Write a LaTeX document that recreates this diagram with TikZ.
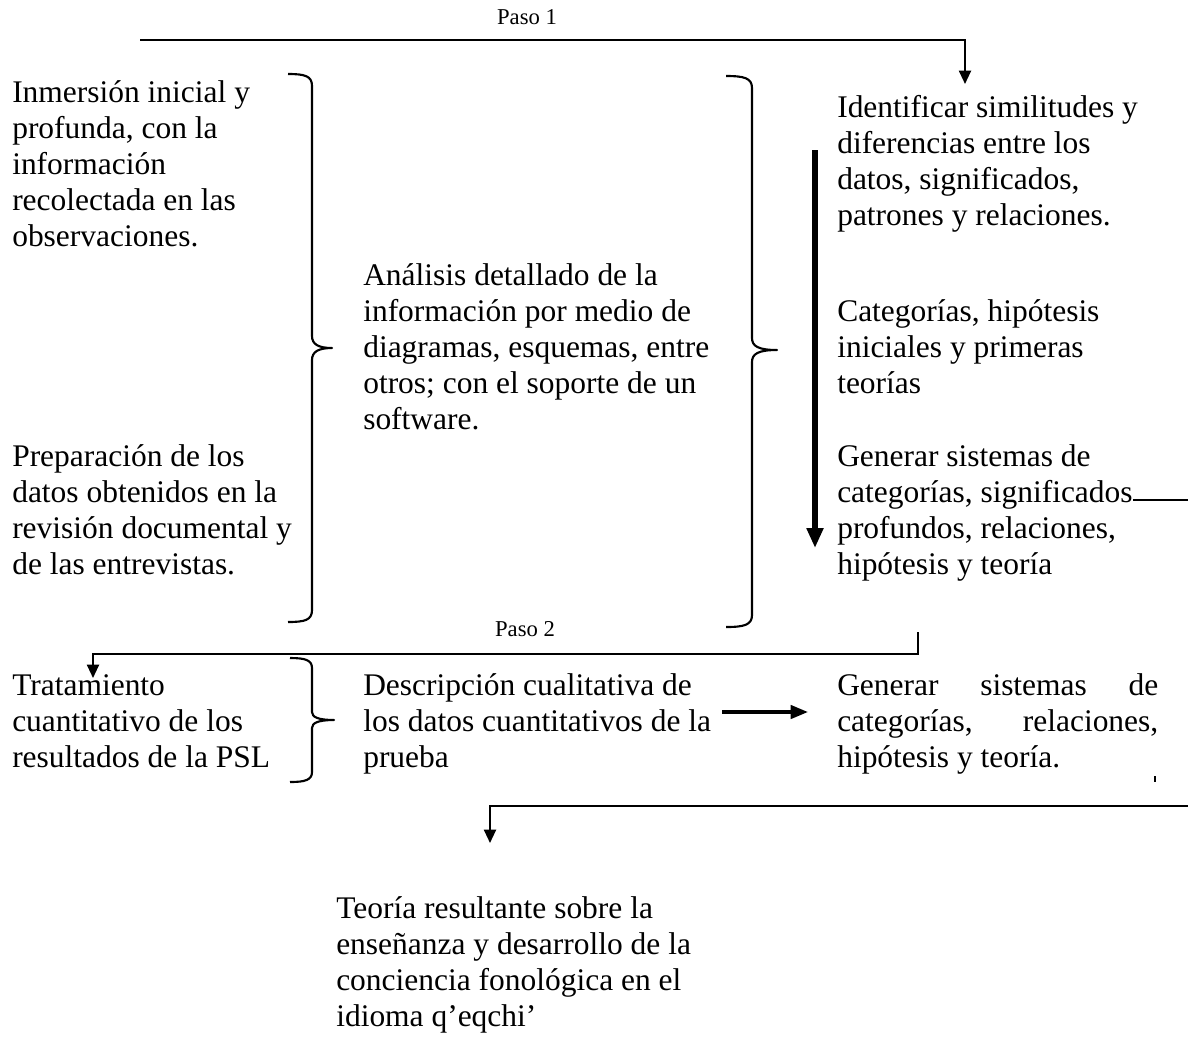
\documentclass[tikz,border=0pt]{standalone}
\usepackage{fontspec}
\setmainfont{Liberation Serif}
\usetikzlibrary{arrows.meta}

\tikzset{
  txt/.style={anchor=base west, inner sep=0pt, font=\fontsize{23.6}{27}\selectfont},
  paso/.style={anchor=base, inner sep=0pt, font=\fontsize{17}{20}\selectfont},
  linea/.style={line width=1.5pt},
  flecha/.style={line width=1.5pt, -{Triangle[length=10pt,width=9pt]}},
  llave/.style={line width=1.6pt, line join=round}
}
\newcommand{\lineas}[1]{\begin{tabular}[t]{@{}l@{}}#1\end{tabular}}

\begin{document}
\begin{tikzpicture}[x=0.75pt, y=-0.75pt]
  \useasboundingbox (0,0) rectangle (1188,1040);
  % paso 1
  \node[paso] (paso1) at (527,24) {Paso 1};
  \coordinate (p1ini) at (140,40); \coordinate (p1esq) at (965,40); \coordinate (p1fin) at (965,84);
  \draw[flecha] (p1ini) -- (p1esq) -- (p1fin);
  % columna izquierda
  \node[txt] (inmersion) at (12,102) {\lineas{Inmersión inicial y\\ profunda, con la\\ información\\ recolectada en las\\ observaciones.}};
  \node[txt] (preparacion) at (12,466) {\lineas{Preparación de los\\ datos obtenidos en la\\ revisión documental y\\ de las entrevistas.}};
  \draw[llave] (288,74) .. controls (305,74) and (312,76) .. (312,86) -- (312,336) .. controls (312,344) and (318,348) .. (332,348)
    .. controls (318,348) and (312,352) .. (312,360) -- (312,610) .. controls (312,620) and (305,622) .. (288,622);
  % columna central
  \node[txt] (analisis) at (363,285) {\lineas{Análisis detallado de la\\ información por medio de\\ diagramas, esquemas, entre\\ otros; con el soporte de un\\ software.}};
  \draw[llave] (726,76) .. controls (744,76) and (752,78) .. (752,88) -- (752,338) .. controls (752,346) and (758,350) .. (777,350)
    .. controls (758,350) and (752,354) .. (752,362) -- (752,615) .. controls (752,625) and (744,627) .. (726,627);
  % columna derecha
  \node[txt] (identificar) at (837,117) {\lineas{Identificar similitudes y\\ diferencias entre los\\ datos, significados,\\ patrones y relaciones.}};
  \node[txt] (categorias) at (837,321) {\lineas{Categorías, hipótesis\\ iniciales y primeras\\ teorías}};
  \node[txt] (generar) at (837,466) {\lineas{Generar sistemas de\\ categorías, significados\\ profundos, relaciones,\\ hipótesis y teoría}};
  \coordinate (gruesoini) at (815,150); \coordinate (gruesofin) at (815,548);
  \draw[line width=4.5pt, -{Triangle[length=15pt,width=12pt]}] (gruesoini) -- (gruesofin);
  \coordinate (sigini) at (1133,500); \coordinate (sigfin) at (1188,500);
  \draw[linea] (sigini) -- (sigfin);
  % paso 2
  \node[paso] (paso2) at (525,636) {Paso 2};
  \coordinate (p2ini) at (918,632); \coordinate (p2esq) at (918,654); \coordinate (p2esqb) at (93,654); \coordinate (p2fin) at (93,678);
  \draw[flecha] (p2ini) -- (p2esq) -- (p2esqb) -- (p2fin);
  % fila inferior
  \node[txt] (tratamiento) at (12,695) {\lineas{Tratamiento\\ cuantitativo de los\\ resultados de la PSL}};
  \draw[llave] (290,658) .. controls (305,658) and (312,660) .. (312,668) -- (312,712) .. controls (312,717) and (318,720) .. (334,720)
    .. controls (318,720) and (312,723) .. (312,728) -- (312,772) .. controls (312,780) and (305,782) .. (290,782);
  \node[txt] (descripcion) at (363,695) {\lineas{Descripción cualitativa de\\ los datos cuantitativos de la\\ prueba}};
  \node[txt] (sistemas) at (837,695) {\parbox[t]{240.75pt}{Generar\hfill sistemas\hfill de\newline categorías,\hfill relaciones,\newline hipótesis y teoría.}};
  \coordinate (medini) at (722,712); \coordinate (medfin) at (808,712);
  \draw[line width=2.5pt, -{Triangle[length=13pt,width=10pt]}] (medini) -- (medfin);
  \fill (1154.3,776) rectangle (1155.8,782);
  % final
  \coordinate (finini) at (1188,806); \coordinate (finesq) at (490,806); \coordinate (finfin) at (490,843);
  \draw[flecha] (finini) -- (finesq) -- (finfin);
  \node[txt] (teoria) at (336,918) {\lineas{Teoría resultante sobre la\\ enseñanza y desarrollo de la\\ conciencia fonológica en el\\ idioma q’eqchi’}};
\end{tikzpicture}
\end{document}
